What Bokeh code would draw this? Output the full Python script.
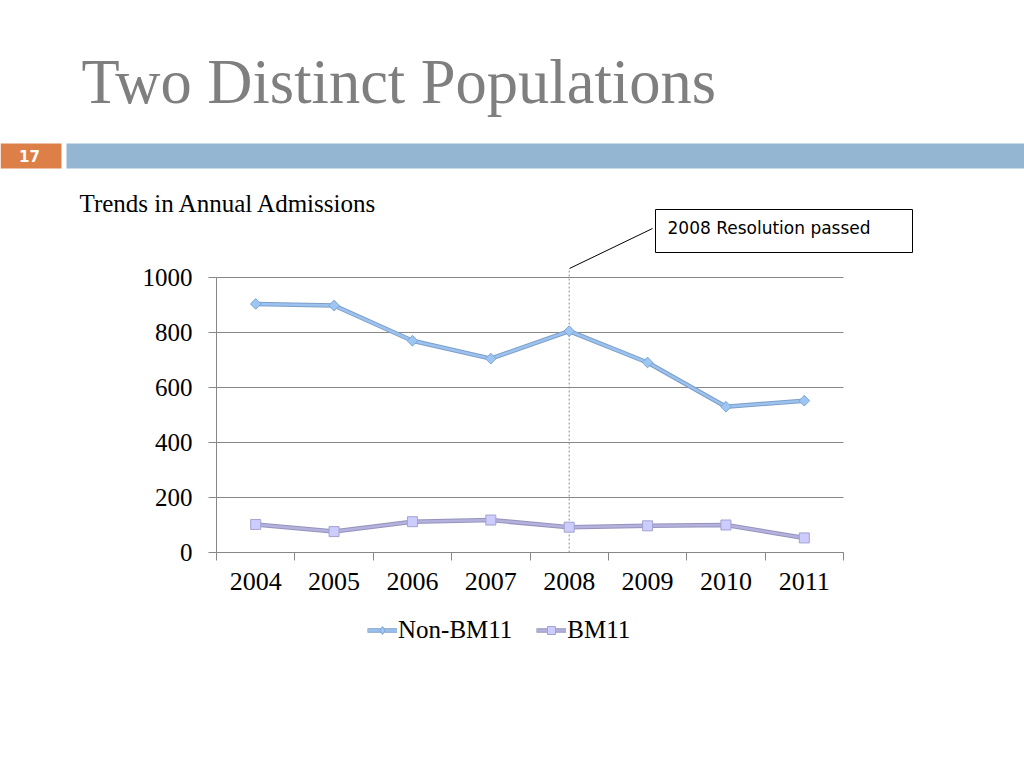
import numpy as np
from bokeh.plotting import figure
from bokeh.models import Range1d, FixedTicker, Legend, LegendItem, Grid
from bokeh.core.properties import value
from bokeh.embed import file_html
from bokeh.resources import INLINE

# ---- data ----
years = [2004, 2005, 2006, 2007, 2008, 2009, 2010, 2011]
non_bm11 = [904, 898, 770, 705, 805, 691, 530, 552]
bm11 = [102, 76, 112, 118, 92, 97, 100, 53]
y_ticks = [0, 200, 400, 600, 800, 1000]
title_text = "Two Distinct Populations"
subtitle_text = "Trends in Annual Admissions"
slide_no = "17"
note_text = "2008 Resolution passed"
event_year = 2008

# ---- layout (page pixels) ----
W, H = 1024, 768
FL, FR, FT, FB = 216, 843, 277, 552     # chart area edges on the page
X0, X1 = years[0] - 0.5, years[-1] + 0.5
Y0, Y1 = 0, 1000
kx = (FR - FL) / (X1 - X0)
ky = (FB - FT) / (Y1 - Y0)

p = figure(width=W, height=H, output_backend="svg", toolbar_location=None,
           x_range=Range1d(X0 - FL / kx, X0 + (W - FL) / kx),
           y_range=Range1d(Y0 - (H - FB) / ky, Y0 + FB / ky),
           min_border=0)
p.outline_line_color = None
p.extra_x_ranges = {"px": Range1d(0, W)}
p.extra_y_ranges = {"py": Range1d(H, 0)}
PX = dict(x_range_name="px", y_range_name="py")

AX = "#878787"
# ---- axes (fixed at the chart's corner) ----
xa = p.xaxis[0]
xa.fixed_location = Y0
xa.bounds = (X0, X1)
xa.ticker = FixedTicker(ticks=years, minor_ticks=[y - 0.5 for y in years] + [X1])
xa.major_tick_out = 0
xa.major_tick_in = 0
xa.minor_tick_out = 8
xa.minor_tick_in = 0
xa.minor_tick_line_color = AX
xa.axis_line_color = AX
xa.major_label_text_font = "Liberation Serif"
xa.major_label_text_font_size = "26px"
xa.major_label_text_color = "black"
xa.major_label_standoff = 12

ya = p.yaxis[0]
ya.fixed_location = X0
ya.bounds = (Y0, Y1)
ya.ticker = FixedTicker(ticks=y_ticks, minor_ticks=[])
ya.major_tick_out = 8
ya.major_tick_in = 0
ya.major_tick_line_color = AX
ya.axis_line_color = AX
ya.major_label_text_font = "Liberation Serif"
ya.major_label_text_font_size = "25px"
ya.major_label_text_color = "black"
ya.major_label_standoff = 16

p.xgrid.grid_line_color = None
if "cross_bounds" in Grid.properties():
    p.ygrid.ticker = FixedTicker(ticks=y_ticks)
    p.ygrid.cross_bounds = (X0, X1)
    p.ygrid.grid_line_color = AX
else:
    p.ygrid.grid_line_color = None
    p.segment(x0=[X0] * len(y_ticks), y0=y_ticks, x1=[X1] * len(y_ticks), y1=y_ticks,
              line_color=AX, line_width=1)

# event marker (dotted vertical line)
p.segment(x0=[event_year], y0=[Y0], x1=[event_year], y1=[Y1 + 25],
          line_color="#8c8c9c", line_dash="2 2", line_width=1)

# ---- series ----
r1a = p.line(years, non_bm11, line_color="#7d9ec8", line_width=4.5)
r1b = p.line(years, non_bm11, line_color="#9cc3ef", line_width=2.5)
# diamond used as the legend swatch (hidden under the rotated-square markers)
r1d = p.scatter(years, non_bm11, marker="diamond", size=10,
                fill_color="#9dc6f2", line_color="#7fa6d6", line_width=1)
r1c = p.scatter(years, non_bm11, marker="square", angle=np.pi / 4, size=7.5,
                fill_color="#9dc6f2", line_color="#7fa6d6", line_width=1)
r2a = p.line(years, bm11, line_color="#9593bd", line_width=4.5)
r2b = p.line(years, bm11, line_color="#b4b2dc", line_width=2.5)
r2c = p.scatter(years, bm11, marker="square", size=10,
                fill_color="#ccccff", line_color="#a3a3cf", line_width=1)

legend = Legend(items=[LegendItem(label="Non-BM11", renderers=[r1a, r1b, r1d]),
                       LegendItem(label="BM11", renderers=[r2a, r2b, r2c])],
                orientation="horizontal", location=(367, H - 644),
                label_text_font="Liberation Serif", label_text_font_size="25px",
                label_text_color="black", glyph_width=30, glyph_height=20,
                label_standoff=1, spacing=24, padding=0, margin=0,
                border_line_color=None, background_fill_alpha=0)
p.add_layout(legend, "center")

# ---- slide header & callout (page pixel coordinates) ----
p.text(x=[81], y=[81], text=[title_text], text_font=value("Liberation Serif"),
       text_font_size="62.5px", text_color="#7f7f7f", text_baseline="alphabetic", **PX)
p.quad(left=[0], right=[61], top=[143], bottom=[168], fill_color="#dd8047",
       line_color=None, **PX)
p.quad(left=[66], right=[W], top=[143], bottom=[168], fill_color="#94b6d2",
       line_color=None, **PX)
p.text(x=[29], y=[155], text=[slide_no], text_font=value("DejaVu Sans"),
       text_font_style="bold", text_font_size="15px", text_color="white",
       text_align="center", text_baseline="middle", **PX)
p.text(x=[79], y=[203], text=[subtitle_text], text_font=value("Liberation Serif"),
       text_font_size="25px", text_color="black", text_baseline="alphabetic", **PX)
p.quad(left=[655], right=[912], top=[209], bottom=[252], fill_color="white",
       line_color="black", line_width=1, **PX)
p.text(x=[667], y=[227], text=[note_text], text_font=value("DejaVu Sans"),
       text_font_size="17px", text_color="black", text_baseline="alphabetic", **PX)
p.segment(x0=[569], y0=[268], x1=[652], y1=[228], line_color="black", line_width=1, **PX)

open("out.html", "w").write(file_html(p, INLINE))
